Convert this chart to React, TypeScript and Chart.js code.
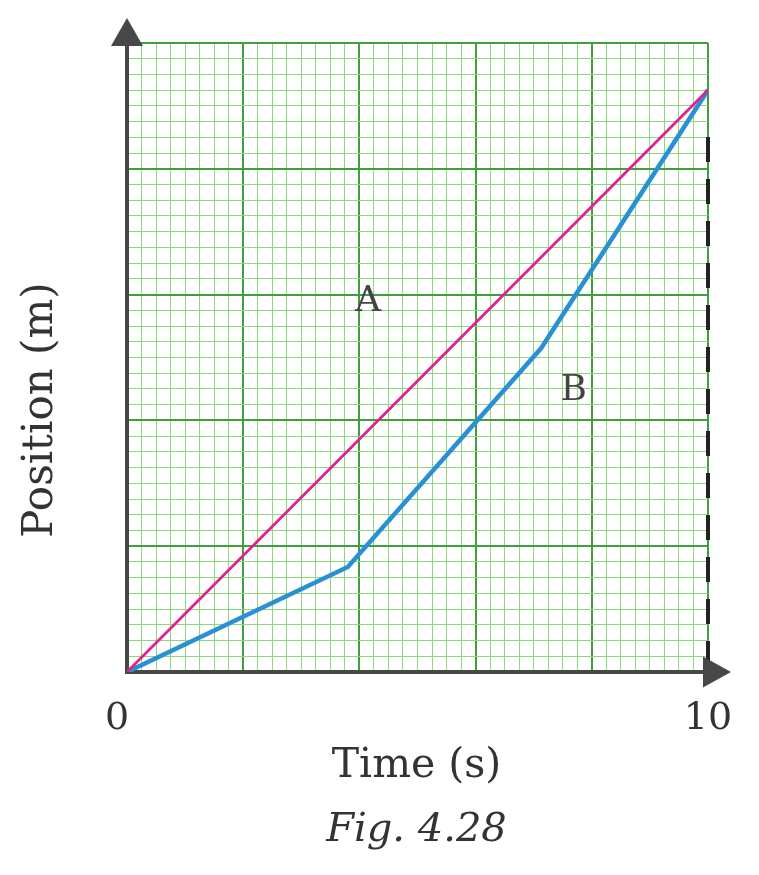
import React, { useEffect, useRef } from "react";
import { Chart, registerables } from "chart.js";

Chart.register(...registerables);

// ---- data ----
const xRange = [0, 10];
const yRange = [0, 5];
const xTickLabels = ["0", "10"];
const lineA_x = [0, 10];
const lineA_y = [0, 4.626];
const lineB_x = [0, 3.8, 7.13, 10];
const lineB_y = [0, 0.835, 2.575, 4.626];
const seriesLabels = ["A", "B"];
const labelA = { x: 4.15, y: 2.87 };
const labelB = { x: 7.69, y: 2.165 };
const xTitle = "Time (s)";
const yTitle = "Position (m)";
const caption = "Fig. 4.28";

const FONT = "'DejaVu Serif', serif";
const AXIS = "#474747";
const TEXT = "#333333";

const overlay = {
  id: "overlay",
  beforeDatasetsDraw(chart: any) {
    const ctx = chart.ctx;
    const xs = chart.scales.x;
    const ys = chart.scales.y;
    const x0 = xs.getPixelForValue(xRange[0]);
    const x1 = xs.getPixelForValue(xRange[1]);
    const y0 = ys.getPixelForValue(yRange[0]);
    const y1 = ys.getPixelForValue(yRange[1]);
    ctx.save();
    // dashed vertical line at x = 10
    ctx.strokeStyle = "#222222";
    ctx.lineWidth = 4;
    ctx.setLineDash([25, 17]);
    ctx.beginPath();
    ctx.moveTo(x1, ys.getPixelForValue(lineA_y[1]) + 47);
    ctx.lineTo(x1, y0);
    ctx.stroke();
    ctx.setLineDash([]);
    // axes
    ctx.strokeStyle = AXIS;
    ctx.lineWidth = 4;
    ctx.beginPath();
    ctx.moveTo(x0, y1 + 3);
    ctx.lineTo(x0, y0 + 2);
    ctx.moveTo(x0 - 2, y0);
    ctx.lineTo(x1 - 4, y0);
    ctx.stroke();
    // arrows
    ctx.fillStyle = AXIS;
    ctx.beginPath();
    ctx.moveTo(x0, y1 - 25);
    ctx.lineTo(x0 - 16, y1 + 3);
    ctx.lineTo(x0 + 16, y1 + 3);
    ctx.closePath();
    ctx.fill();
    ctx.beginPath();
    ctx.moveTo(x1 + 23, y0);
    ctx.lineTo(x1 - 5, y0 - 15.5);
    ctx.lineTo(x1 - 5, y0 + 15.5);
    ctx.closePath();
    ctx.fill();
    ctx.restore();
  },
  afterDraw(chart: any) {
    const ctx = chart.ctx;
    const xs = chart.scales.x;
    const ys = chart.scales.y;
    const x0 = xs.getPixelForValue(xRange[0]);
    const x1 = xs.getPixelForValue(xRange[1]);
    const y0 = ys.getPixelForValue(yRange[0]);
    ctx.save();
    ctx.fillStyle = TEXT;
    ctx.textAlign = "center";
    ctx.textBaseline = "alphabetic";
    ctx.font = `38px ${FONT}`;
    ctx.fillText(xTickLabels[0], x0 - 10, y0 + 57);
    ctx.fillText(xTickLabels[1], x1, y0 + 57);
    ctx.font = `41px ${FONT}`;
    ctx.fillText(xTitle, (x0 + x1) / 2 - 1, y0 + 105);
    ctx.font = `italic 40px ${FONT}`;
    ctx.fillText(caption, (x0 + x1) / 2 - 1, y0 + 169);
    ctx.font = `36px ${FONT}`;
    ctx.fillStyle = "#444444";
    ctx.fillText(seriesLabels[0], xs.getPixelForValue(labelA.x), ys.getPixelForValue(labelA.y));
    ctx.fillText(seriesLabels[1], xs.getPixelForValue(labelB.x), ys.getPixelForValue(labelB.y));
    // y title
    ctx.fillStyle = TEXT;
    ctx.font = `42px ${FONT}`;
    ctx.translate(52, 410);
    ctx.rotate(-Math.PI / 2);
    ctx.fillText(yTitle, 0, 0);
    ctx.restore();
  },
};

export default function App() {
  const ref = useRef<HTMLCanvasElement>(null);
  useEffect(() => {
    const canvas = ref.current!;
    const chart = new Chart(canvas, {
      type: "scatter",
      data: {
        datasets: [
          {
            label: seriesLabels[0],
            data: lineA_x.map((x, i) => ({ x, y: lineA_y[i] })),
            showLine: true,
            borderColor: "#e0228e",
            borderWidth: 2.8,
            pointRadius: 0,
            fill: false,
          },
          {
            label: seriesLabels[1],
            data: lineB_x.map((x, i) => ({ x, y: lineB_y[i] })),
            showLine: true,
            borderColor: "#2991d3",
            borderWidth: 4.5,
            pointRadius: 0,
            fill: false,
          },
        ],
      },
      options: {
        responsive: false,
        animation: false,
        devicePixelRatio: 1,
        layout: { padding: { left: 127, top: 43, right: 51, bottom: 203 } },
        plugins: { legend: { display: false }, tooltip: { enabled: false } },
        scales: {
          x: {
            type: "linear",
            min: xRange[0],
            max: xRange[1],
            border: { display: false },
            ticks: { display: false, stepSize: 0.25, autoSkip: false, maxTicksLimit: 200 },
            grid: {
              drawTicks: false,
              color: (c: any) =>
                Math.abs(c.tick.value / 2 - Math.round(c.tick.value / 2)) < 1e-6 ? "#3f9f3f" : "#8fd77e",
              lineWidth: (c: any) =>
                Math.abs(c.tick.value / 2 - Math.round(c.tick.value / 2)) < 1e-6 ? 2 : 1,
            },
          },
          y: {
            type: "linear",
            min: yRange[0],
            max: yRange[1],
            border: { display: false },
            ticks: { display: false, stepSize: 0.125, autoSkip: false, maxTicksLimit: 200 },
            grid: {
              drawTicks: false,
              color: (c: any) =>
                Math.abs(c.tick.value - Math.round(c.tick.value)) < 1e-6 ? "#3f9f3f" : "#8fd77e",
              lineWidth: (c: any) =>
                Math.abs(c.tick.value - Math.round(c.tick.value)) < 1e-6 ? 2 : 1,
            },
          },
        },
      },
      plugins: [overlay],
    } as any);
    return () => chart.destroy();
  }, []);
  return (
    <div style={{ position: "absolute", left: 0, top: 0, width: 759, height: 875, background: "#fff" }}>
      <canvas ref={ref} width={759} height={875} style={{ display: "block" }} />
    </div>
  );
}
